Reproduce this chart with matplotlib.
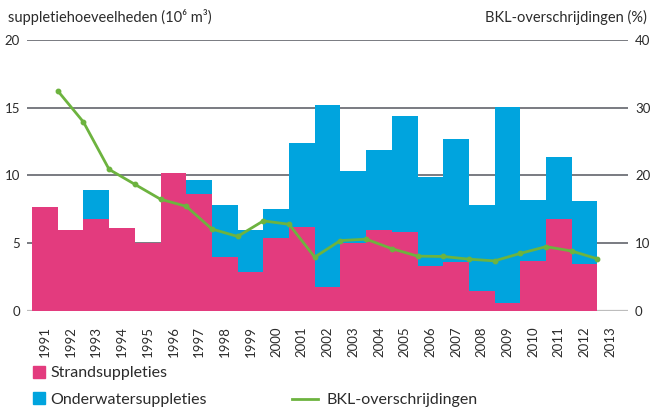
import matplotlib
matplotlib.use("Agg")
import matplotlib.pyplot as plt
from matplotlib.patches import Patch
from matplotlib.lines import Line2D
import numpy as np

plt.rcParams['font.family'] = ['Lato', 'DejaVu Sans']

years = list(range(1991, 2014))          # tick labels (1991..2013)
bar_years = list(range(1991, 2013))      # years with bars
strand = [7.7, 6.0, 6.8, 6.1, 5.0, 10.2, 8.6, 4.0, 2.9, 5.4, 6.2, 1.8,
          5.0, 6.0, 5.8, 3.35, 3.6, 1.5, 0.6, 3.7, 6.8, 3.5]
totaal = [7.7, 6.0, 8.9, 6.1, 5.0, 10.2, 9.7, 7.8, 6.0, 7.55, 12.4, 15.2,
          10.3, 11.9, 14.4, 9.9, 12.7, 7.8, 15.05, 8.2, 11.4, 8.1]
onderwater = [t - s for t, s in zip(totaal, strand)]
bkl = [32.5, 27.9, 20.9, 18.7, 16.5, 15.45, 12.1, 11.0, 13.3, 12.8, 7.95,
       10.4, 10.6, 9.2, 8.1, 8.05, 7.65, 7.4, 8.5, 9.5, 8.85, 7.7]

PINK = '#e33b7e'
BLUE = '#00a4de'
GREEN = '#6db33f'
GRID = '#6e7177'
TXT = '#2b2b2b'

fig = plt.figure(figsize=(6.55, 4.11), dpi=100)
ax = fig.add_axes([27/655, 100/411, 601/655, 271/411])
ax2 = ax.twinx()

x = np.arange(len(bar_years))
for v in [5, 10, 15, 20]:
    ax.axhline(v, color=GRID, lw=1.3, zorder=0)
ax.axhline(0, color='#bdbdbd', lw=1.6, zorder=0)

ax.bar(x, strand, width=1.0, color=PINK, zorder=2, linewidth=0)
ax.bar(x, onderwater, bottom=strand, width=1.0, color=BLUE, zorder=2, linewidth=0)

ax2.plot(x + 0.5, bkl, color=GREEN, lw=2.0, marker='o', markersize=3.2, zorder=3)

ax.set_xlim(-0.695, 22.69)
ax.set_ylim(0, 20)
ax2.set_ylim(0, 40)

for a in (ax, ax2):
    for s in a.spines.values():
        s.set_visible(False)

ax.set_xticks(np.arange(len(years)))
ax.set_xticklabels([str(y) for y in years], rotation=90, fontsize=9.5, color=TXT)
ax.tick_params(axis='x', length=0, pad=11)
ax.set_yticks([0, 5, 10, 15, 20])
ax.tick_params(axis='y', length=0, pad=5, labelsize=9.5, labelcolor=TXT)
ax2.set_yticks([0, 10, 20, 30, 40])
ax2.tick_params(axis='y', length=0, pad=5, labelsize=9.5, labelcolor=TXT)

fig.text(8/655, 1 - 17/411, 'suppletiehoeveelheden (10⁶ m³)', fontsize=10.5,
         color=TXT, ha='left', va='center')
fig.text(647/655, 1 - 17/411, 'BKL-overschrijdingen (%)', fontsize=10.5,
         color=TXT, ha='right', va='center')

h1 = [Patch(color=PINK, label='Strandsuppleties'),
      Patch(color=BLUE, label='Onderwatersuppleties')]
leg1 = fig.legend(handles=h1, loc='upper left', bbox_to_anchor=(33/655, 1 - 366/411),
                  frameon=False, fontsize=11.5, handlelength=0.75, handleheight=0.75,
                  handletextpad=0.35, labelspacing=0.75, borderpad=0, borderaxespad=0)
for t in leg1.get_texts():
    t.set_color(TXT)
h2 = [Line2D([0], [0], color=GREEN, lw=2.0, label='BKL-overschrijdingen')]
leg2 = fig.legend(handles=h2, loc='upper left', bbox_to_anchor=(292/655, 1 - 393/411),
                  frameon=False, fontsize=11.5, handlelength=1.6,
                  handletextpad=0.55, borderpad=0, borderaxespad=0)
for t in leg2.get_texts():
    t.set_color(TXT)

fig.savefig('out.png', dpi=100)
